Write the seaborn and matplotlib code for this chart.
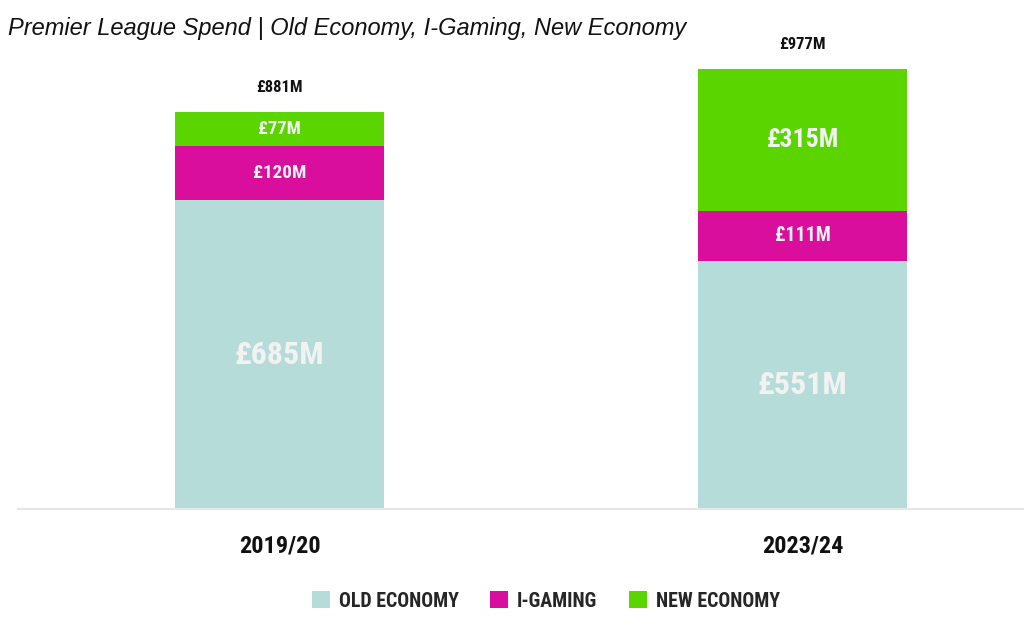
import numpy as np
import pandas as pd
import matplotlib
matplotlib.use("Agg")
import matplotlib.pyplot as plt
import seaborn as sns
from matplotlib.patches import Patch

seasons = ["2019/20", "2023/24"]
old_economy = [685, 551]
i_gaming = [120, 111]
new_economy = [77, 315]
totals = [881, 977]
series_names = ["OLD ECONOMY", "I-GAMING", "NEW ECONOMY"]
colors = ["#b5dcd9", "#d90e9d", "#5bd500"]

sns.set_style("white")
NARROW = ["Roboto Condensed", "Liberation Sans Narrow", "DejaVu Sans"]
plt.rcParams["font.family"] = NARROW
plt.rcParams["font.stretch"] = "condensed"

fig = plt.figure(figsize=(10.24, 6.43), dpi=100)
ax = fig.add_axes([18 / 1024, 1 - 509 / 643, 1 - 18 / 1024, (509 - 40) / 643])

df = pd.DataFrame({
    "season": seasons,
    "old": old_economy,
    "igaming": i_gaming,
    "new": new_economy,
})
df["lvl1"] = df["old"]
df["lvl2"] = df["old"] + df["igaming"]
df["lvl3"] = df["lvl2"] + df["new"]

# cumulative bars drawn from the top layer down
for col, color in zip(["lvl3", "lvl2", "lvl1"], colors[::-1]):
    sns.barplot(data=df, x="season", y=col, color=color, width=0.4,
                saturation=1, ax=ax, linewidth=0)

# labels inside the segments
bottoms = np.zeros(len(seasons))
seg_sizes = [[23, 23], [13.8, 14.2], [13.4, 18.5]]
for vals, sizes in zip([old_economy, i_gaming, new_economy], seg_sizes):
    for i, v in enumerate(vals):
        ax.text(i, bottoms[i] + v / 2, f"£{v}M", ha="center", va="center",
                color="#f2f2f2", fontsize=sizes[i], fontweight="bold")
    bottoms += np.array(vals)

for i, t in enumerate(totals):
    ax.annotate(f"£{t}M", (i, bottoms[i]), xytext=(0, 12),
                textcoords="offset points", ha="center", va="bottom",
                fontsize=12, fontweight="bold", color="#111111")

ax.set_xlim(-0.5, 1 + (1024 - 802.5) / 523)
ax.set_ylim(0, 1041)
ax.set_xlabel("")
ax.set_ylabel("")
ax.set_yticks([])
ax.tick_params(axis="x", length=0, pad=18, labelsize=17.5, labelcolor="#111111")
for lab in ax.get_xticklabels():
    lab.set_fontweight("bold")
sns.despine(ax=ax, left=True, top=True, right=True)
ax.spines["bottom"].set_color("#e6e6e6")
ax.spines["bottom"].set_linewidth(1.5)

handles = [Patch(facecolor=c, edgecolor="none", label=n)
           for c, n in zip(colors, series_names)]
fig.legend(handles=handles, loc="center", bbox_to_anchor=(546 / 1024, 1 - 601 / 643),
           ncol=3, frameon=False, handlelength=0.9, handleheight=0.9,
           handletextpad=0.45, columnspacing=1.6,
           prop={"family": NARROW, "weight": "bold", "size": 14.3,
                 "stretch": "condensed"})

fig.text(8 / 1024, 1 - 29 / 643,
         "Premier League Spend | Old Economy, I-Gaming, New Economy",
         ha="left", va="center", fontsize=17, style="italic",
         family=["Liberation Sans", "DejaVu Sans"], stretch="normal",
         color="#111111")

fig.savefig("out.png", dpi=100)
